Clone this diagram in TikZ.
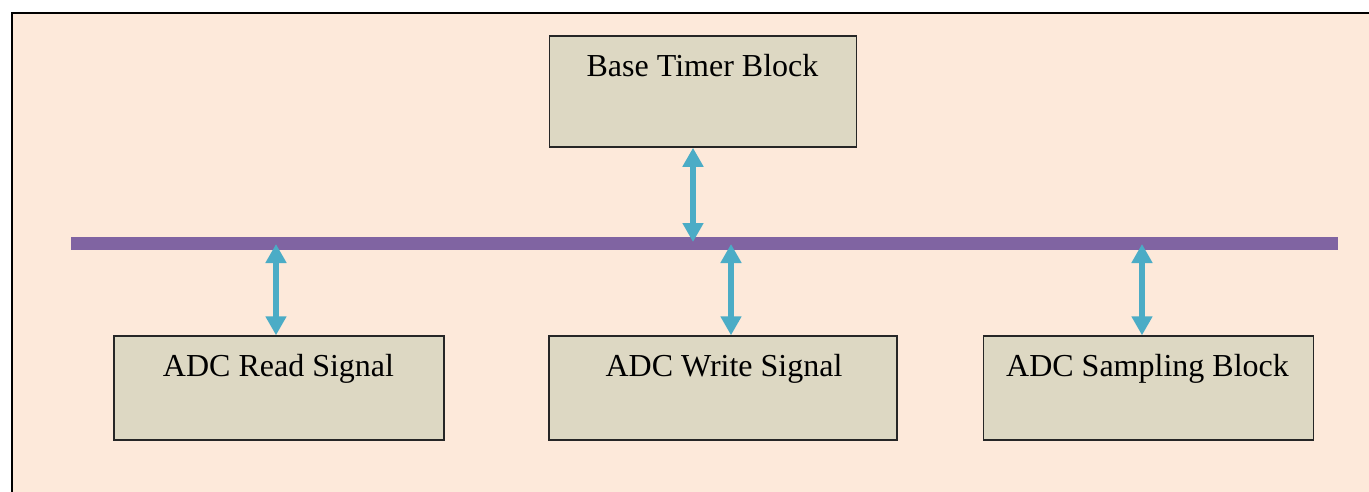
\documentclass[tikz,border=0pt]{standalone}
\usepackage{fontspec}
\setmainfont{Liberation Serif}
\usetikzlibrary{arrows.meta}
\definecolor{bgpeach}{HTML}{FDE9DA}
\definecolor{boxfill}{HTML}{DDD8C3}
\definecolor{busviolet}{HTML}{8064A2}
\definecolor{arrowblue}{HTML}{4BACC6}
\tikzset{
  blockbox/.style={draw=black!85, line width=1.4pt, fill=boxfill, inner sep=0pt},
  lbl/.style={font=\fontsize{32}{38}\selectfont, inner sep=0pt, anchor=base},
  busline/.style={line width=12.5pt, draw=busviolet},
  dbl/.style={line width=6pt, draw=arrowblue,
    {Triangle[width=20pt,length=19pt]}-{Triangle[width=20pt,length=19pt]}},
}
\begin{document}
\begin{tikzpicture}[x=1pt,y=-1pt]
\useasboundingbox (0,0) rectangle (1369,492);
\fill[bgpeach] (11.5,13) rectangle (1369,492);
\draw[line width=2pt] (11.5,492) -- (11.5,13) -- (1369,13);

% boxes
\node[blockbox, minimum width=307.5pt, minimum height=111pt] (base) at (703,91.6) {};
\node[blockbox, minimum width=330pt, minimum height=104pt] (read) at (279,388) {};
\node[blockbox, minimum width=348pt, minimum height=104pt] (write) at (723,388) {};
\node[blockbox, minimum width=330pt, minimum height=104pt] (samp) at (1148.3,388) {};

% labels
\node[lbl] (baselbl) at (702.5,76.7) {Base Timer Block};
\node[lbl] (readlbl) at (278.5,376.3) {ADC Read Signal};
\node[lbl] (writelbl) at (724,376.3) {ADC Write Signal};
\node[lbl] (samplbl) at (1147.5,376.5) {ADC Sampling Block};

% bus
\coordinate (busL) at (71,243.5);
\coordinate (busR) at (1338,243.5);
\draw[busline] (busL) -- (busR);

% arrows
\coordinate (tb) at (693,242);
\coordinate (tr) at (276,244);
\coordinate (tw) at (731,244);
\coordinate (ts) at (1142,244);
\draw[dbl] (base.south -| tb) -- (tb);
\draw[dbl] (tr) -- (tr |- read.north);
\draw[dbl] (tw) -- (tw |- write.north);
\draw[dbl] (ts) -- (ts |- samp.north);
\end{tikzpicture}
\end{document}
